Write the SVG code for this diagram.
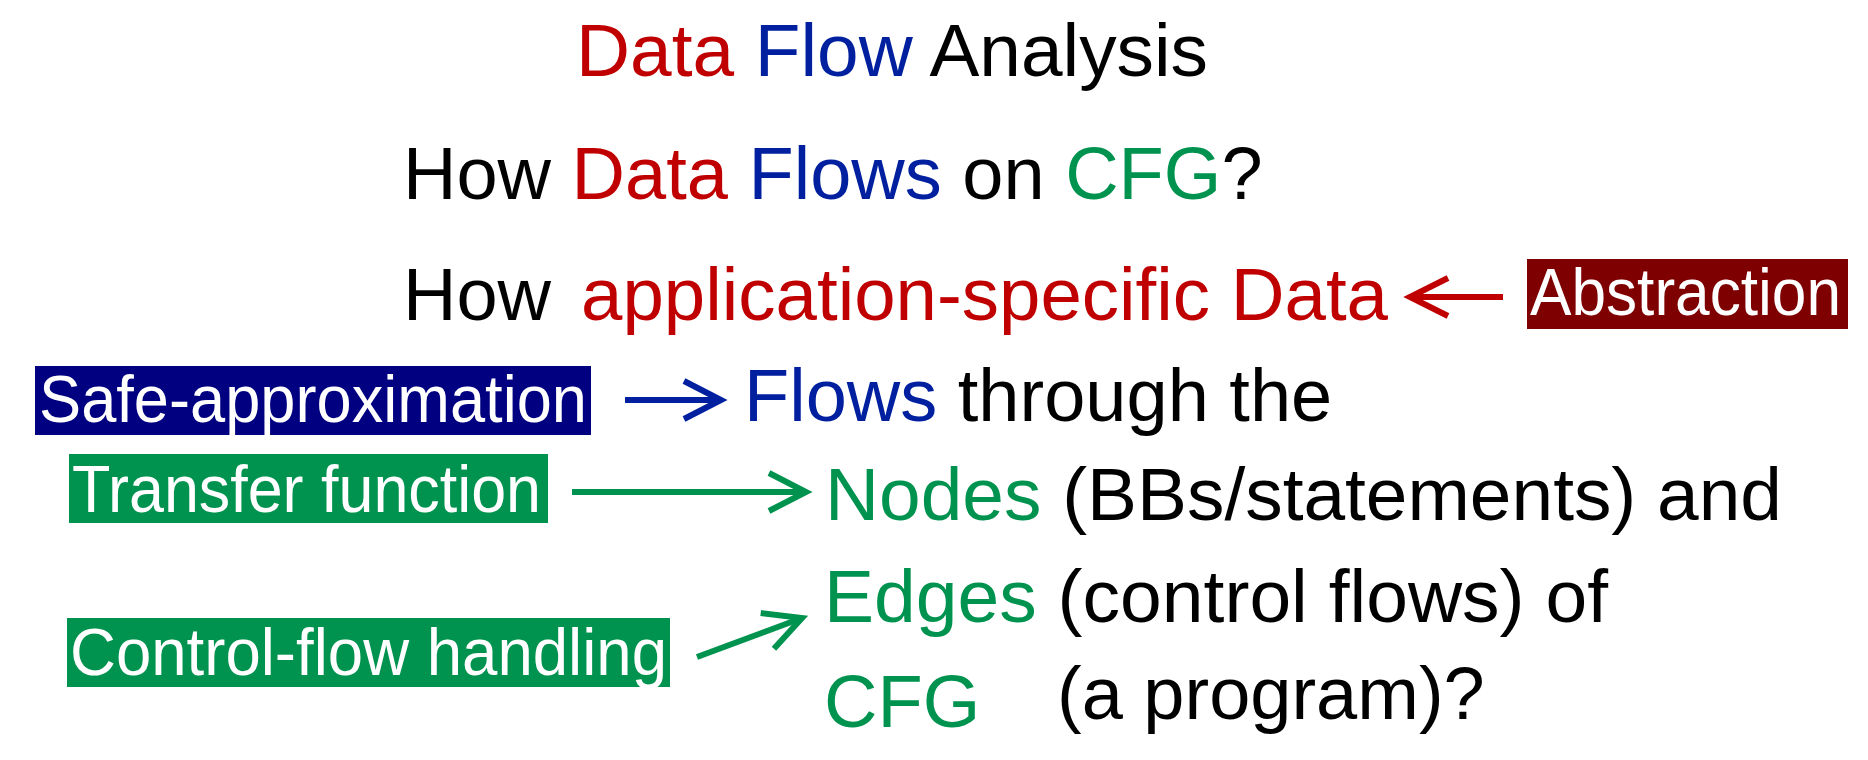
<svg xmlns="http://www.w3.org/2000/svg" width="1868" height="760" viewBox="0 0 1868 760">
<style>
text{font-family:"Liberation Sans",Arial,sans-serif;}
.main{font-size:74px;fill:#000;}
.lbl{font-size:66px;fill:#fff;}
.r{fill:#c00000;}
.b{fill:#00209f;}
.g{fill:#00934f;}
.conn{fill:none;stroke-width:6;}
</style>
<defs>
<marker id="ar" markerUnits="userSpaceOnUse" viewBox="-45 -25 50 50" markerWidth="50" markerHeight="50" refX="0" refY="0" orient="auto" overflow="visible"><path d="M-38,-19 L0,0 L-38,19" fill="none" stroke="#c00000" stroke-width="6"/></marker>
<marker id="ab" markerUnits="userSpaceOnUse" viewBox="-45 -25 50 50" markerWidth="50" markerHeight="50" refX="0" refY="0" orient="auto" overflow="visible"><path d="M-37,-19 L0,0 L-37,19" fill="none" stroke="#00209f" stroke-width="6"/></marker>
<marker id="ag" markerUnits="userSpaceOnUse" viewBox="-45 -25 50 50" markerWidth="50" markerHeight="50" refX="0" refY="0" orient="auto" overflow="visible"><path d="M-37,-19 L0,0 L-37,19" fill="none" stroke="#00934f" stroke-width="6"/></marker>
</defs>
<rect width="1868" height="760" fill="#fff"/>
<g id="title"><text class="main" x="576" y="76" textLength="632" lengthAdjust="spacingAndGlyphs"><tspan class="r">Data</tspan> <tspan class="b">Flow</tspan> Analysis</text></g>
<g id="line2"><text class="main" x="403" y="199">How <tspan class="r">Data</tspan> <tspan class="b">Flows</tspan> on <tspan class="g">CFG</tspan>?</text></g>
<g id="line3"><text class="main" x="403" y="320">How</text><text class="main r" x="581" y="320" textLength="807" lengthAdjust="spacingAndGlyphs">application-specific Data</text></g>
<g id="abstraction"><rect x="1527" y="259" width="321" height="70" fill="#7f0000"/><text class="lbl" x="1530" y="315" textLength="311" lengthAdjust="spacingAndGlyphs">Abstraction</text></g>
<g id="safe"><rect x="35" y="366" width="556" height="69" fill="#000080"/><text class="lbl" x="39" y="422" textLength="548" lengthAdjust="spacingAndGlyphs">Safe-approximation</text></g>
<g id="line4"><text class="main" x="744" y="421"><tspan class="b">Flows</tspan> through the</text></g>
<g id="transfer"><rect x="69" y="454" width="479" height="69" fill="#00934f"/><text class="lbl" x="72" y="512" textLength="469" lengthAdjust="spacingAndGlyphs">Transfer function</text></g>
<g id="line5"><text class="main" x="825" y="520" textLength="957" lengthAdjust="spacingAndGlyphs"><tspan class="g">Nodes</tspan> (BBs/statements) and</text></g>
<g id="control"><rect x="67" y="618" width="603" height="69" fill="#00934f"/><text class="lbl" x="70" y="675" textLength="597" lengthAdjust="spacingAndGlyphs">Control-flow handling</text></g>
<g id="line6"><text class="main" x="824" y="622" textLength="784" lengthAdjust="spacingAndGlyphs"><tspan class="g">Edges</tspan> (control flows) of</text></g>
<g id="line7"><text class="main g" x="824" y="727">CFG</text><text class="main" x="1057" y="719">(a program)?</text></g>
<g id="connectors">
<line class="conn" x1="1503" y1="297" x2="1410" y2="297" stroke="#c00000" marker-end="url(#ar)"/>
<line class="conn" x1="625" y1="400" x2="721" y2="400" stroke="#00209f" marker-end="url(#ab)"/>
<line class="conn" x1="572" y1="492" x2="806" y2="492" stroke="#00934f" marker-end="url(#ag)"/>
<line class="conn" x1="697" y1="657" x2="802" y2="618" stroke="#00934f" marker-end="url(#ag)"/>
</g>
</svg>
